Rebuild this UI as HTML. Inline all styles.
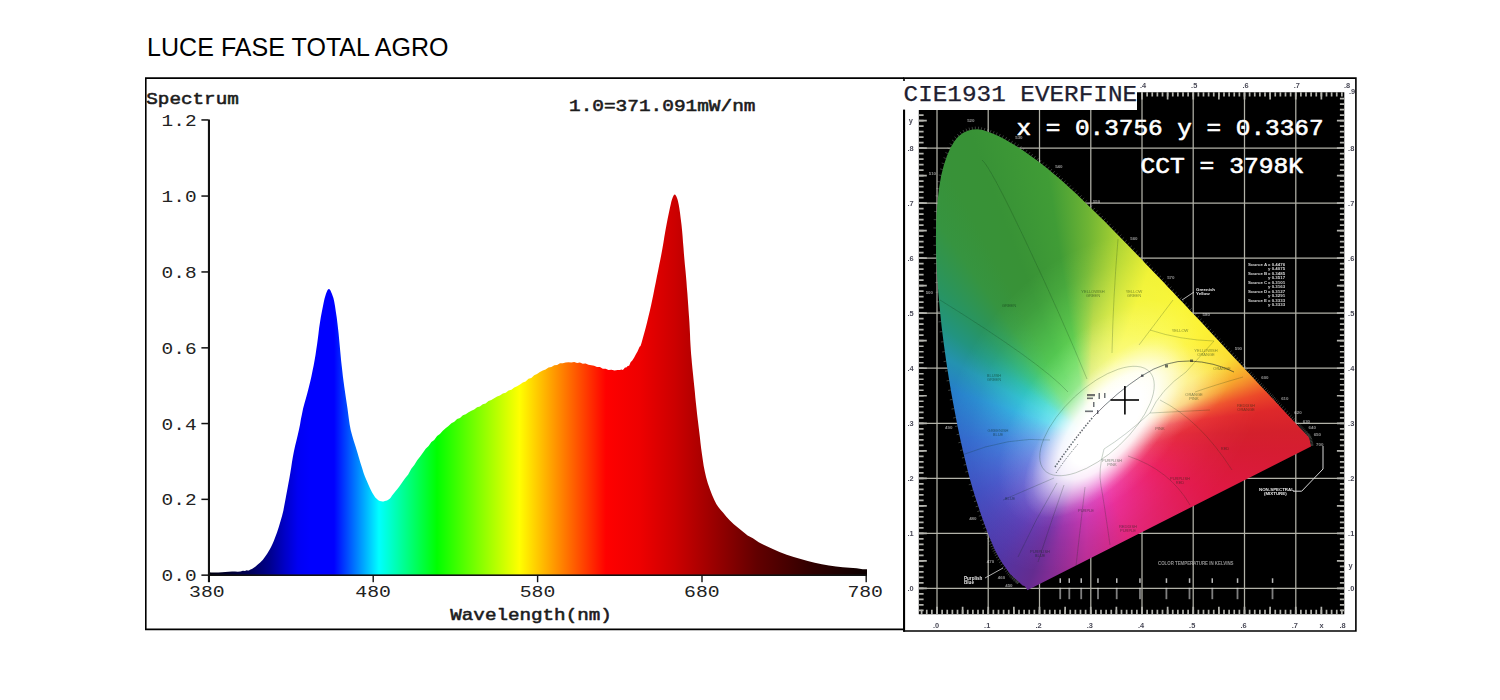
<!DOCTYPE html>
<html><head><meta charset="utf-8"><title>LUCE FASE TOTAL AGRO</title>
<style>
html,body{margin:0;padding:0;background:#fff;}
body{width:1500px;height:700px;position:relative;overflow:hidden;font-family:"Liberation Sans",sans-serif;}
#title{position:absolute;left:147px;top:33px;font-size:25px;line-height:28px;color:#000;white-space:nowrap;letter-spacing:0.05px;}
svg{position:absolute;left:0;top:0;}
.m{font-family:"Liberation Mono",monospace;}
.mb{font-family:"Liberation Mono",monospace;font-weight:bold;}
#ciecol{position:absolute;left:930px;top:110px;width:400px;height:500px;overflow:hidden;}
#ciecol div{position:absolute;}
</style></head><body>
<div id="title">LUCE FASE TOTAL AGRO</div>
<svg width="1500" height="700" viewBox="0 0 1500 700">
<defs>
<linearGradient id="sg" gradientUnits="userSpaceOnUse" x1="209" y1="0" x2="867" y2="0">
<stop offset="0.0000" stop-color="#00000c"/>
<stop offset="0.0623" stop-color="#000058"/>
<stop offset="0.0927" stop-color="#00008e"/>
<stop offset="0.1155" stop-color="#0000c8"/>
<stop offset="0.1353" stop-color="#0000f4"/>
<stop offset="0.1535" stop-color="#0000ff"/>
<stop offset="0.1900" stop-color="#0000ff"/>
<stop offset="0.2584" stop-color="#00ffff"/>
<stop offset="0.3465" stop-color="#00ff00"/>
<stop offset="0.4719" stop-color="#ffff00"/>
<stop offset="0.6033" stop-color="#ff0000"/>
<stop offset="0.6550" stop-color="#ee0000"/>
<stop offset="0.7082" stop-color="#cc0000"/>
<stop offset="0.7492" stop-color="#aa0000"/>
<stop offset="0.8328" stop-color="#620000"/>
<stop offset="0.9164" stop-color="#300000"/>
<stop offset="1.0000" stop-color="#0c0000"/>
</linearGradient>
<filter id="bl" x="-2%" y="-2%" width="104%" height="104%"><feGaussianBlur stdDeviation="0.45"/></filter>
</defs>
<g fill="none" stroke="#000" stroke-width="1.6">
<path d="M904,78.1 H145.8 V629.4 H904"/>
<path d="M904,78.1 H1355.9 V631 H904 Z"/>
</g>
<path d="M209,575.5 L209.0,572.2 L211.3,572.6 L214.7,572.5 L218.4,572.5 L222.0,572.3 L225.3,572.0 L228.7,571.7 L232.0,571.4 L235.0,571.4 L237.8,571.7 L240.5,571.4 L242.9,570.7 L245.0,571.1 L246.6,570.3 L247.8,570.5 L248.9,570.5 L250.0,569.8 L251.2,569.3 L252.3,568.7 L253.4,568.1 L254.5,567.3 L255.6,566.5 L256.7,565.6 L257.8,564.6 L259.0,563.5 L260.2,562.4 L261.4,561.2 L262.7,559.9 L264.0,558.3 L265.4,556.3 L267.0,554.1 L268.5,551.6 L270.0,549.0 L271.3,546.4 L272.6,543.8 L273.9,540.8 L275.3,537.1 L277.0,532.4 L278.8,527.0 L280.5,521.3 L282.1,515.7 L283.4,510.4 L284.4,505.0 L285.4,499.7 L286.4,494.3 L287.4,489.0 L288.4,483.6 L289.4,478.3 L290.3,472.9 L291.2,467.5 L292.0,462.1 L292.9,456.8 L293.9,451.4 L295.1,446.0 L296.4,440.7 L297.7,435.3 L298.9,430.0 L300.0,424.7 L300.9,419.3 L302.0,414.0 L303.1,408.6 L304.5,403.2 L306.0,397.9 L307.5,392.5 L308.9,387.1 L310.2,381.7 L311.4,376.4 L312.5,371.0 L313.6,365.7 L314.6,360.3 L315.5,355.0 L316.3,349.6 L317.1,344.3 L317.8,339.0 L318.5,333.6 L319.1,328.3 L319.9,322.9 L320.8,317.2 L321.9,311.4 L323.0,305.9 L323.9,301.4 L324.7,298.1 L325.4,295.7 L326.0,293.8 L326.6,292.2 L327.2,290.8 L327.8,289.8 L328.3,289.2 L328.9,289.0 L329.5,289.2 L330.0,289.8 L330.6,290.8 L331.2,292.2 L331.9,293.8 L332.6,295.7 L333.4,298.1 L334.2,301.4 L335.0,305.9 L335.8,311.4 L336.7,317.2 L337.4,322.9 L338.0,328.3 L338.6,333.6 L339.1,339.0 L339.6,344.3 L340.1,349.7 L340.6,355.0 L341.1,360.4 L341.7,365.7 L342.3,371.0 L342.9,376.4 L343.6,381.7 L344.3,387.1 L345.1,392.5 L345.9,397.9 L346.7,403.2 L347.5,408.6 L348.2,414.0 L348.9,419.3 L349.7,424.7 L350.7,430.0 L352.1,435.3 L353.7,440.7 L355.4,446.0 L357.1,451.4 L358.7,457.0 L360.4,462.7 L362.1,468.1 L363.6,472.9 L365.0,476.8 L366.4,480.1 L367.7,483.0 L368.9,485.7 L370.0,488.2 L371.1,490.5 L372.1,492.5 L373.2,494.3 L374.3,495.9 L375.3,497.4 L376.4,498.6 L377.5,499.6 L378.7,500.4 L379.9,500.9 L381.2,501.2 L382.4,501.4 L383.6,501.4 L384.8,501.1 L386.0,500.8 L387.0,500.4 L387.9,500.0 L388.6,499.5 L389.3,499.0 L390.0,498.4 L390.6,497.7 L391.2,496.9 L391.7,496.0 L392.5,495.0 L393.5,493.8 L394.5,492.5 L395.7,491.1 L397.0,489.5 L398.2,487.9 L399.5,486.3 L400.9,484.3 L402.8,481.6 L405.3,477.9 L408.2,474.4 L411.3,468.7 L414.3,465.1 L417.2,460.3 L420.0,456.7 L422.9,452.7 L425.7,448.8 L428.6,446.0 L431.4,442.0 L434.2,439.9 L437.1,436.1 L439.9,434.0 L442.8,430.7 L445.6,428.3 L448.5,426.0 L451.4,423.3 L454.3,421.8 L457.1,419.0 L460.0,417.9 L462.9,415.3 L465.7,414.3 L468.6,412.3 L471.4,410.7 L474.2,409.4 L477.1,407.3 L479.9,406.6 L482.8,404.2 L485.6,403.4 L488.5,401.1 L491.3,399.9 L494.2,398.2 L497.1,396.5 L499.9,395.5 L502.8,393.4 L505.7,392.8 L508.6,390.4 L511.4,389.7 L514.3,387.6 L517.1,386.3 L520.0,384.6 L522.8,382.6 L525.6,381.4 L528.5,378.8 L531.3,377.9 L534.2,375.2 L537.0,374.1 L539.9,371.9 L542.8,370.6 L545.6,369.4 L548.5,367.6 L551.4,367.1 L554.3,365.2 L557.1,365.0 L560.0,363.3 L562.8,363.2 L565.6,362.4 L568.5,362.2 L571.4,362.5 L574.2,362.0 L577.1,363.0 L579.9,362.5 L582.8,363.8 L585.6,363.6 L588.4,364.7 L591.3,365.2 L594.1,365.7 L597.0,367.0 L599.9,367.1 L602.8,368.8 L605.6,368.7 L608.5,370.1 L611.5,369.8 L614.6,370.4 L617.5,370.1 L619.9,369.9 L621.6,369.4 L622.8,370.1 L623.8,369.0 L625.0,367.5 L626.3,367.6 L627.7,366.0 L629.1,365.7 L630.6,362.2 L632.3,360.4 L634.2,357.6 L635.9,354.2 L637.5,351.4 L638.7,348.8 L639.6,346.8 L640.5,346.0 L641.5,343.1 L642.8,338.3 L644.2,333.3 L645.7,327.8 L647.1,322.3 L648.4,316.8 L649.8,311.0 L651.1,305.2 L652.3,299.4 L653.5,293.7 L654.6,287.9 L655.8,282.2 L656.9,276.5 L658.1,270.8 L659.2,265.0 L660.4,259.3 L661.5,253.6 L662.5,247.9 L663.5,242.2 L664.4,236.5 L665.4,230.8 L666.5,224.8 L667.7,218.5 L668.9,212.7 L669.9,207.9 L670.7,204.4 L671.3,201.7 L671.9,199.7 L672.5,198.0 L673.1,196.5 L673.6,195.5 L674.2,194.8 L674.7,194.6 L675.3,194.8 L675.8,195.5 L676.4,196.5 L677.0,198.0 L677.6,199.7 L678.1,201.7 L678.7,204.4 L679.3,207.9 L680.0,212.7 L680.7,218.5 L681.5,224.8 L682.1,230.8 L682.6,236.5 L683.0,242.2 L683.5,247.9 L683.9,253.6 L684.4,259.3 L684.9,265.0 L685.5,270.8 L686.0,276.5 L686.5,282.2 L686.9,287.9 L687.4,293.7 L687.8,299.4 L688.2,305.1 L688.6,310.9 L689.0,316.6 L689.4,322.3 L689.7,328.1 L690.0,334.0 L690.2,339.8 L690.5,345.1 L690.8,349.8 L691.1,354.0 L691.5,358.2 L691.9,362.9 L692.4,368.3 L693.0,374.0 L693.6,380.0 L694.2,385.8 L694.8,391.5 L695.3,397.2 L695.9,402.9 L696.5,408.6 L697.1,414.3 L697.8,420.0 L698.5,425.8 L699.2,431.5 L699.9,437.2 L700.5,442.9 L701.2,448.7 L702.0,454.4 L702.8,460.1 L703.7,465.9 L704.8,471.6 L706.1,477.3 L707.8,483.2 L709.9,489.3 L712.1,495.0 L714.3,500.0 L716.3,503.9 L718.3,507.0 L720.5,509.8 L723.2,512.8 L726.4,516.7 L729.9,520.5 L733.8,524.2 L738.1,527.7 L742.7,531.5 L747.6,535.5 L752.9,538.2 L758.7,542.3 L765.2,545.5 L772.2,548.8 L779.5,552.1 L786.7,554.8 L793.7,557.1 L800.7,559.1 L807.7,560.9 L814.7,562.7 L821.8,564.2 L828.9,565.5 L836.0,566.6 L842.7,567.2 L849.6,567.7 L856.6,568.2 L862.7,569.2 L867.0,569.2 L867,575.5 Z" fill="url(#sg)"/>
<g fill="#111">
<rect x="207.9" y="119.5" width="2.1" height="462.7"/>
<rect x="209" y="574.4" width="658" height="1.6"/>
<rect x="201.4" y="119.2" width="7" height="1.5"/>
<rect x="201.4" y="195.3" width="7" height="1.5"/>
<rect x="201.4" y="271.2" width="7" height="1.5"/>
<rect x="201.4" y="347.1" width="7" height="1.5"/>
<rect x="201.4" y="422.8" width="7" height="1.5"/>
<rect x="201.4" y="498.6" width="7" height="1.5"/>
<rect x="201.4" y="574.4" width="7" height="1.5"/>
<rect x="372.5" y="575" width="1.4" height="7.2"/>
<rect x="536.9" y="575" width="1.4" height="7.2"/>
<rect x="701.3" y="575" width="1.4" height="7.2"/>
<rect x="865.5" y="575" width="1.4" height="7.2"/>
</g>
<g class="m" font-size="17" fill="#222">
<text x="161.6" y="126.0" textLength="35" lengthAdjust="spacingAndGlyphs">1.2</text>
<text x="161.6" y="202.1" textLength="35" lengthAdjust="spacingAndGlyphs">1.0</text>
<text x="161.6" y="278.0" textLength="35" lengthAdjust="spacingAndGlyphs">0.8</text>
<text x="161.6" y="353.8" textLength="35" lengthAdjust="spacingAndGlyphs">0.6</text>
<text x="161.6" y="429.5" textLength="35" lengthAdjust="spacingAndGlyphs">0.4</text>
<text x="161.6" y="505.3" textLength="35" lengthAdjust="spacingAndGlyphs">0.2</text>
<text x="161.6" y="581.1" textLength="35" lengthAdjust="spacingAndGlyphs">0.0</text>
<text x="189.1" y="597.3" textLength="35.6" lengthAdjust="spacingAndGlyphs">380</text>
<text x="355.3" y="597.3" textLength="35.6" lengthAdjust="spacingAndGlyphs">480</text>
<text x="519.7" y="597.3" textLength="35.6" lengthAdjust="spacingAndGlyphs">580</text>
<text x="684.1" y="597.3" textLength="35.6" lengthAdjust="spacingAndGlyphs">680</text>
<text x="847.4" y="597.3" textLength="35.6" lengthAdjust="spacingAndGlyphs">780</text>
</g>
<g class="m" font-size="16.4" fill="#1c1c1c" stroke="#1c1c1c" stroke-width="0.55" stroke-linejoin="round">
<text x="146.3" y="103.8" textLength="92.5" lengthAdjust="spacingAndGlyphs">Spectrum</text>
<text x="569" y="111.1" textLength="186.5" lengthAdjust="spacingAndGlyphs">1.0=371.091mW/nm</text>
<text x="450.3" y="620" textLength="161.5" lengthAdjust="spacingAndGlyphs">Wavelength(nm)</text>
</g>
<path d="M918.8,110 H1137 V92.2 H1344.3 V614.2 H918.8 Z" fill="#000"/>
<g filter="url(#bl)">
<g stroke="#b2b2a8" stroke-width="1.25">
<line x1="937.0" y1="110" x2="937.0" y2="614"/>
<line x1="988.2" y1="110" x2="988.2" y2="614"/>
<line x1="1039.5" y1="110" x2="1039.5" y2="614"/>
<line x1="1090.8" y1="110" x2="1090.8" y2="614"/>
<line x1="1142.0" y1="92" x2="1142.0" y2="614"/>
<line x1="1193.2" y1="92" x2="1193.2" y2="614"/>
<line x1="1244.5" y1="92" x2="1244.5" y2="614"/>
<line x1="1295.8" y1="92" x2="1295.8" y2="614"/>
<line x1="919" y1="588.4" x2="1344.3" y2="588.4"/>
<line x1="919" y1="533.4" x2="1344.3" y2="533.4"/>
<line x1="919" y1="478.3" x2="1344.3" y2="478.3"/>
<line x1="919" y1="423.3" x2="1344.3" y2="423.3"/>
<line x1="919" y1="368.2" x2="1344.3" y2="368.2"/>
<line x1="919" y1="313.2" x2="1344.3" y2="313.2"/>
<line x1="919" y1="258.2" x2="1344.3" y2="258.2"/>
<line x1="919" y1="203.1" x2="1344.3" y2="203.1"/>
<line x1="919" y1="148.1" x2="1344.3" y2="148.1"/>
</g>
<line x1="1141.15" y1="94.4" x2="1343.0" y2="94.4" stroke="#b4b4ae" stroke-width="4.4" stroke-dasharray="1.7 3.425"/>
<line x1="1141.15" y1="95.9" x2="1343.0" y2="95.9" stroke="#b4b4ae" stroke-width="7.4" stroke-dasharray="1.7 23.925"/>
<line x1="920.77" y1="612.0" x2="1343.0" y2="612.0" stroke="#b4b4ae" stroke-width="4.4" stroke-dasharray="1.7 3.425"/>
<line x1="936.15" y1="610.5" x2="1343.0" y2="610.5" stroke="#b4b4ae" stroke-width="7.4" stroke-dasharray="1.7 23.925"/>
<line x1="921.2" y1="611.27" x2="921.2" y2="111.0" stroke="#b4b4ae" stroke-width="4.8" stroke-dasharray="1.7 3.804"/>
<line x1="922.8" y1="589.25" x2="922.8" y2="111.0" stroke="#b4b4ae" stroke-width="8.0" stroke-dasharray="1.7 25.820"/>
<line x1="1342.1" y1="611.27" x2="1342.1" y2="94.0" stroke="#b4b4ae" stroke-width="4.4" stroke-dasharray="1.7 3.804"/>
<line x1="1340.6" y1="589.25" x2="1340.6" y2="94.0" stroke="#b4b4ae" stroke-width="7.4" stroke-dasharray="1.7 25.820"/>
</g>
</svg>
<div id="ciecol" style="clip-path:path('M97.3,480.3 L97.0,479.6 L96.4,478.6 L95.8,477.6 L95.3,476.7 L94.7,476.3 L94.0,476.0 L93.4,475.8 L92.9,475.6 L92.5,475.4 L92.2,475.2 L91.9,474.9 L91.6,474.6 L91.1,474.2 L90.6,473.7 L90.0,473.1 L89.2,472.4 L88.4,471.6 L87.5,470.8 L86.4,469.8 L85.2,468.7 L83.8,467.4 L82.3,466.1 L80.6,464.4 L78.7,462.1 L76.3,458.8 L73.6,454.9 L70.8,450.7 L68.3,446.6 L66.3,442.8 L64.5,439.2 L62.8,435.3 L60.8,430.6 L58.6,425.2 L56.3,419.3 L53.9,412.8 L51.3,405.4 L48.6,397.2 L45.6,388.3 L42.6,378.6 L39.6,367.9 L36.6,356.3 L33.6,343.7 L30.5,330.3 L27.5,316.0 L24.6,300.8 L21.6,284.7 L18.8,268.1 L16.2,251.2 L13.8,234.1 L11.6,216.6 L9.8,199.1 L8.3,182.1 L7.1,165.4 L6.3,149.0 L5.9,133.1 L6.0,118.0 L6.6,103.6 L7.7,89.9 L9.2,77.0 L11.2,65.5 L13.8,55.2 L16.9,46.0 L20.4,38.0 L24.2,31.5 L28.3,26.5 L32.9,23.1 L37.6,20.8 L42.5,19.5 L47.5,19.2 L52.7,20.1 L58.0,21.7 L63.2,23.7 L68.5,25.9 L73.8,28.7 L79.0,31.7 L84.2,34.8 L89.3,38.0 L94.2,41.3 L99.1,44.7 L104.0,48.2 L108.8,51.8 L113.6,55.5 L118.3,59.3 L123.0,63.2 L127.8,67.2 L132.5,71.3 L137.1,75.5 L141.8,79.7 L146.5,84.1 L151.1,88.4 L155.7,92.9 L160.4,97.4 L165.0,101.9 L169.6,106.5 L174.3,111.1 L178.9,115.7 L183.5,120.4 L188.2,125.2 L192.8,129.9 L197.5,134.7 L202.1,139.5 L206.7,144.3 L211.3,149.1 L215.9,153.9 L220.5,158.7 L225.1,163.5 L229.7,168.3 L234.3,173.1 L238.8,177.9 L243.3,182.6 L247.8,187.4 L252.3,192.1 L256.7,196.8 L261.0,201.4 L265.4,206.0 L269.7,210.6 L273.9,215.1 L278.0,219.6 L282.2,224.0 L286.2,228.3 L290.2,232.6 L294.1,236.8 L298.0,240.9 L301.8,244.9 L305.5,248.9 L309.1,252.8 L312.6,256.5 L316.0,260.2 L319.2,263.6 L322.4,267.0 L325.4,270.2 L328.3,273.4 L331.2,276.4 L334.0,279.4 L336.7,282.3 L339.2,285.0 L341.5,287.4 L343.6,289.6 L345.7,291.9 L348.2,294.6 L351.3,297.9 L354.8,301.7 L358.3,305.4 L361.4,308.7 L363.9,311.4 L366.1,313.7 L368.0,315.8 L369.8,317.7 L371.5,319.5 L372.9,321.0 L374.3,322.5 L375.5,323.8 L376.6,324.9 L377.5,325.8 L378.3,326.8 L379.1,328.1 L379.7,330.1 L380.2,332.5 L380.7,334.8 L381.0,336.4 Z');">
<div style="left:0;top:0;width:400px;height:500px;background:conic-gradient(from 0deg at 158px 326px, #409c36 -8.7deg, #6eb434 0.0deg, #b2d632 9.9deg, #eef02e 20.3deg, #f8f22a 36.5deg, #fcec28 47.8deg, #fad62c 61.3deg, #f69628 69.5deg, #ec4828 76.4deg, #de282a 82.0deg, #d4202c 88.9deg, #d61c32 95.0deg, #e01846 114.6deg, #e02474 158.1deg, #b82c92 181.0deg, #802c94 195.6deg, #642c90 201.9deg, #5036a6 217.0deg, #3c48ba 242.7deg, #3060c8 267.8deg, #267eca 288.4deg, #2492b0 298.7deg, #229480 306.8deg, #289462 314.2deg, #369440 324.9deg, #389238 332.1deg, #389236 338.7deg, #409c36 351.3deg, #6eb434 360.0deg);"></div>
<div style="left:-16px;top:152px;width:380px;height:280px;transform:rotate(-50deg);mix-blend-mode:overlay;background:radial-gradient(closest-side, rgba(255,255,255,0.78) 0%, rgba(255,255,255,0.64) 35%, rgba(255,255,255,0.36) 60%, rgba(255,255,255,0.12) 82%, rgba(255,255,255,0.00) 100%);"></div>
<div style="left:37px;top:229px;width:270px;height:150px;transform:rotate(-50deg);background:radial-gradient(closest-side, rgba(255,255,255,0.50) 0%, rgba(255,255,255,0.36) 40%, rgba(255,255,255,0.14) 70%, rgba(255,255,255,0.00) 100%);"></div>
<div style="left:63px;top:267px;width:228px;height:98px;transform:rotate(-49deg);background:radial-gradient(closest-side, rgba(255,255,255,1.00) 0%, rgba(255,255,255,1.00) 42%, rgba(255,255,255,0.88) 58%, rgba(255,255,255,0.50) 74%, rgba(255,255,255,0.14) 90%, rgba(255,255,255,0.00) 100%);"></div>
<div style="left:157px;top:244px;width:150px;height:84px;transform:rotate(-28deg);background:radial-gradient(closest-side, rgba(255,255,255,0.50) 0%, rgba(255,255,255,0.36) 45%, rgba(255,255,255,0.12) 75%, rgba(255,255,255,0.00) 100%);"></div>
</div>
<svg width="1500" height="700" viewBox="0 0 1500 700">
<defs><filter id="bl2" x="-5%" y="-5%" width="110%" height="110%"><feGaussianBlur stdDeviation="0.5"/></filter></defs>
<rect x="902.5" y="81" width="234.3" height="28.8" fill="#fff"/>
<rect x="903.1" y="109.7" width="2" height="522" fill="#000"/>
<text class="m" x="903.6" y="100.5" font-size="21.6" fill="#1e2030" stroke="#1e2030" stroke-width="0.25" textLength="233.5" lengthAdjust="spacingAndGlyphs">CIE1931 EVERFINE</text>
<g class="m" font-size="22" fill="#fff" stroke="#fff" stroke-width="0.6" stroke-linejoin="round">
<text x="1016.5" y="135" textLength="307" lengthAdjust="spacingAndGlyphs">x = 0.3756 y = 0.3367</text>
<text x="1140.5" y="173" textLength="162.5" lengthAdjust="spacingAndGlyphs">CCT = 3798K</text>
</g>
<g font-family="Liberation Sans, sans-serif" font-size="7.4" font-weight="bold" fill="#4a4a58" text-anchor="middle" filter="url(#bl2)">
<text x="936.0" y="627.8">.0</text>
<text x="987.2" y="627.8">.1</text>
<text x="1038.5" y="627.8">.2</text>
<text x="1089.8" y="627.8">.3</text>
<text x="1141.0" y="627.8">.4</text>
<text x="1192.2" y="627.8">.5</text>
<text x="1243.5" y="627.8">.6</text>
<text x="1294.8" y="627.8">.7</text>
<text x="1321.6" y="627.8">x</text><text x="1342.5" y="627.8">.8</text>
<text x="1143.0" y="88.2">.4</text>
<text x="1194.2" y="88.2">.5</text>
<text x="1245.5" y="88.2">.6</text>
<text x="1296.8" y="88.2">.7</text>
<text x="1347.0" y="88.2">.8</text>
<text x="910.7" y="122.5">y</text>
<text x="910.5" y="591.0">.0</text>
<text x="1351.2" y="591.0">.0</text>
<text x="910.5" y="536.0">.1</text>
<text x="1351.2" y="536.0">.1</text>
<text x="910.5" y="480.9">.2</text>
<text x="1351.2" y="480.9">.2</text>
<text x="910.5" y="425.9">.3</text>
<text x="1351.2" y="425.9">.3</text>
<text x="910.5" y="370.8">.4</text>
<text x="1351.2" y="370.8">.4</text>
<text x="910.5" y="315.8">.5</text>
<text x="1351.2" y="315.8">.5</text>
<text x="910.5" y="260.8">.6</text>
<text x="1351.2" y="260.8">.6</text>
<text x="910.5" y="205.7">.7</text>
<text x="1351.2" y="205.7">.7</text>
<text x="910.5" y="150.7">.8</text>
<text x="1351.2" y="150.7">.8</text>
<text x="1352" y="93.8">.9</text>
<text x="1350.5" y="567.5">y</text>
</g>
<g fill="none" stroke="#10301c" stroke-opacity="0.24" stroke-width="0.9" filter="url(#bl2)">
<ellipse cx="1097" cy="421" rx="72" ry="33" transform="rotate(-43 1097 421)"/>
<path d="M1087,379 Q1062,318 1026,242 T982,160"/>
<path d="M1068,392 Q1040,362 940,300"/>
<path d="M1112,353 Q1113,300 1118,239"/>
<path d="M1139,345 L1173,300"/>
<path d="M1050,440 Q1010,436 962,455"/>
<path d="M1054,478 L1003,500"/>
<path d="M1057,483 Q1035,520 1018,557"/>
<path d="M1064,485 Q1050,525 1038,562"/>
<path d="M1085,487 Q1080,530 1076,566"/>
<path d="M1104,449 Q1098,470 1101,486 T1110,545"/>
<path d="M1104,449 Q1125,436 1150,413 L1210,410"/>
<path d="M1150,413 Q1160,390 1186,372"/>
<path d="M1160,400 Q1200,420 1232,470"/>
<path d="M1128,456 Q1170,470 1190,505"/>
<path d="M1186,372 L1214,341"/>
<path d="M1195,392 Q1215,385 1243,377"/>
<path d="M1150,330 Q1180,340 1214,341"/>
</g>
<g fill="none" stroke="#101820" filter="url(#bl2)">
<path d="M1093,417 Q1117,392 1141.5,376 T1190,361 T1234,372" stroke-width="0.9" stroke-opacity="0.6"/>
<path d="M1055,467 Q1072,442 1093,417" stroke-width="1.5" stroke-dasharray="1.5 1.5" stroke-opacity="0.65"/>
<path d="M1056,473 Q1066,458 1078,444" stroke-width="1" stroke-dasharray="1 1.2" stroke-opacity="0.6"/>
</g>
<g fill="#10141c" fill-opacity="0.6" filter="url(#bl2)">
<rect x="1087.0" y="394.0" width="8.0" height="2.2"/>
<rect x="1087.0" y="397.5" width="6.0" height="1.6"/>
<rect x="1085.0" y="410.5" width="8.0" height="1.6"/>
<rect x="1098.5" y="393.0" width="1.5" height="6.0"/>
<rect x="1104.0" y="393.0" width="1.5" height="5.0"/>
<rect x="1093.0" y="402.0" width="1.5" height="5.0"/>
<rect x="1097.0" y="410.0" width="1.4" height="4.0"/>
<rect x="1165.0" y="364.5" width="3.0" height="3.0"/>
<rect x="1190.0" y="359.5" width="3.0" height="2.5"/>
<rect x="1141.0" y="374.5" width="2.5" height="2.5"/>
</g>
<g font-family="Liberation Sans, sans-serif" font-size="4" fill="#102018" fill-opacity="0.5" text-anchor="middle" filter="url(#bl2)">
<text x="1009" y="307">GREEN</text>
<text x="1093" y="293">YELLOWISH</text>
<text x="1093" y="297">GREEN</text>
<text x="1134" y="293">YELLOW</text>
<text x="1134" y="297">GREEN</text>
<text x="994" y="377">BLUISH</text>
<text x="994" y="381">GREEN</text>
<text x="998" y="432">GREENISH</text>
<text x="998" y="436">BLUE</text>
<text x="1010" y="500">BLUE</text>
<text x="1040" y="553">PURPLISH</text>
<text x="1040" y="557">BLUE</text>
<text x="1086" y="512">PURPLE</text>
<text x="1112" y="462">PURPLISH</text>
<text x="1112" y="466">PINK</text>
<text x="1128" y="528">REDDISH</text>
<text x="1128" y="532">PURPLE</text>
<text x="1180" y="480">PURPLISH</text>
<text x="1180" y="484">RED</text>
<text x="1225" y="450">RED</text>
<text x="1194" y="396">ORANGE</text>
<text x="1194" y="400">PINK</text>
<text x="1180" y="332">YELLOW</text>
<text x="1206" y="352">YELLOWISH</text>
<text x="1206" y="356">ORANGE</text>
<text x="1222" y="370">ORANGE</text>
<text x="1246" y="407">REDDISH</text>
<text x="1246" y="411">ORANGE</text>
<text x="1160" y="430">PINK</text>
</g>
<g fill="#e8e8e8" filter="url(#bl2)">
<g font-family="Liberation Sans, sans-serif" font-size="4.4" font-weight="bold" text-anchor="middle" fill-opacity="0.6">
<text x="1008.9" y="586.7">450</text>
<text x="1001.5" y="579.1">460</text>
<text x="990.5" y="562.6">470</text>
<text x="972.8" y="519.8">480</text>
<text x="948.7" y="429.4">490</text>
<text x="929.3" y="294.3">500</text>
<text x="932.4" y="175.2">510</text>
<text x="970.8" y="122.3">520</text>
<text x="1018.9" y="138.7">530</text>
<text x="1058.8" y="167.9">540</text>
<text x="1096.6" y="202.5">550</text>
<text x="1133.9" y="240.0">560</text>
<text x="1170.8" y="278.5">570</text>
<text x="1206.2" y="316.0">580</text>
<text x="1238.4" y="350.4">590</text>
<text x="1264.9" y="378.8">600</text>
<text x="1284.8" y="400.0">610</text>
<text x="1298.0" y="414.2">620</text>
<text x="1306.4" y="423.1">630</text>
<text x="1312.2" y="429.4">640</text>
<text x="1317.3" y="436.2">650</text>
<text x="1319.7" y="446.0">700</text>
</g>
<path d="M1018.9,582.1 l-1.7,1.9 M1018.5,581.7 l-1.7,1.9 M1017.9,581.2 l-1.7,1.9 M1017.3,580.7 l-1.8,1.9 M1016.7,580.0 l-1.8,1.9 M1015.9,579.4 l-1.8,1.9 M1015.2,578.7 l-1.8,1.9 M1014.4,577.9 l-1.7,1.9 M1013.6,577.2 l-1.7,2.0 M1012.8,576.5 l-1.7,1.9 M1011.9,575.7 l-1.8,1.9 M1010.9,574.7 l-1.9,1.8 M1009.8,573.5 l-2.0,1.7 M1008.7,572.1 l-2.1,1.6 M1007.4,570.3 l-2.1,1.5 M1005.9,568.3 l-2.1,1.5 M1004.4,566.1 l-2.1,1.5 M1002.8,563.7 l-2.2,1.4 M1001.2,561.3 l-2.2,1.4 M999.7,558.9 l-2.2,1.3 M998.3,556.6 l-2.3,1.3 M997.1,554.4 l-2.3,1.2 M996.1,552.3 l-2.3,1.2 M995.0,550.3 l-2.3,1.1 M994.0,548.1 l-2.4,1.1 M993.0,545.9 l-2.4,1.0 M992.0,543.4 l-2.4,1.0 M990.8,540.6 l-2.4,1.0 M989.6,537.6 l-2.4,1.0 M988.3,534.4 l-2.4,1.0 M987.0,531.1 l-2.4,0.9 M985.7,527.5 l-2.4,0.9 M984.3,523.7 l-2.4,0.9 M982.8,519.7 l-2.5,0.9 M981.3,515.4 l-2.5,0.8 M979.8,510.8 l-2.5,0.8 M978.2,506.0 l-2.5,0.8 M976.5,500.9 l-2.5,0.8 M974.8,495.6 l-2.5,0.8 M973.1,490.0 l-2.5,0.7 M971.3,484.1 l-2.5,0.7 M969.6,477.9 l-2.5,0.7 M967.9,471.4 l-2.5,0.6 M966.2,464.5 l-2.5,0.6 M964.4,457.4 l-2.5,0.6 M962.7,449.9 l-2.5,0.6 M960.9,442.2 l-2.5,0.6 M959.2,434.2 l-2.5,0.5 M957.5,426.0 l-2.5,0.5 M955.8,417.5 l-2.6,0.5 M954.1,408.6 l-2.6,0.5 M952.4,399.4 l-2.6,0.5 M950.8,390.0 l-2.6,0.4 M949.2,380.5 l-2.6,0.4 M947.6,370.8 l-2.6,0.4 M946.2,361.2 l-2.6,0.4 M944.8,351.6 l-2.6,0.4 M943.5,341.7 l-2.6,0.3 M942.2,331.6 l-2.6,0.3 M941.1,321.6 l-2.6,0.3 M940.0,311.6 l-2.6,0.3 M939.1,301.7 l-2.6,0.2 M938.3,292.1 l-2.6,0.2 M937.6,282.5 l-2.6,0.2 M937.0,273.0 l-2.6,0.1 M936.5,263.6 l-2.6,0.1 M936.2,254.4 l-2.6,0.1 M936.0,245.3 l-2.6,0.0 M935.9,236.5 l-2.6,-0.0 M936.0,228.0 l-2.6,-0.1 M936.3,219.7 l-2.6,-0.1 M936.7,211.6 l-2.6,-0.2 M937.3,203.7 l-2.6,-0.2 M938.1,196.1 l-2.6,-0.3 M938.9,188.8 l-2.6,-0.4 M940.0,181.9 l-2.6,-0.4 M941.2,175.5 l-2.5,-0.5 M942.6,169.5 l-2.5,-0.6 M944.2,163.8 l-2.5,-0.8 M945.9,158.5 l-2.4,-0.9 M947.8,153.5 l-2.4,-1.0 M949.8,149.0 l-2.3,-1.1 M952.0,145.0 l-2.3,-1.3 M954.2,141.5 l-2.1,-1.5 M956.5,138.5 l-2.0,-1.7 M959.0,136.0 l-1.7,-1.9 M961.5,133.9 l-1.5,-2.1 M964.2,132.3 l-1.2,-2.3 M967.0,131.1 l-1.0,-2.4 M969.7,130.1 l-0.7,-2.5 M972.5,129.5 l-0.4,-2.6 M975.4,129.2 l-0.1,-2.6 M978.3,129.3 l0.3,-2.6 M981.2,129.8 l0.5,-2.5 M984.2,130.5 l0.7,-2.5 M987.2,131.5 l0.8,-2.5 M990.2,132.6 l0.9,-2.4 M993.2,133.7 l0.9,-2.4 M996.2,134.9 l1.0,-2.4 M999.2,136.3 l1.1,-2.3 M1002.3,137.8 l1.2,-2.3 M1005.3,139.5 l1.3,-2.3 M1008.3,141.3 l1.3,-2.2 M1011.3,143.1 l1.3,-2.2 M1014.2,144.8 l1.4,-2.2 M1017.1,146.6 l1.4,-2.2 M1020.0,148.4 l1.4,-2.2 M1022.8,150.3 l1.4,-2.2 M1025.6,152.2 l1.5,-2.1 M1028.5,154.2 l1.5,-2.1 M1031.2,156.2 l1.5,-2.1 M1034.0,158.2 l1.5,-2.1 M1036.8,160.3 l1.6,-2.1 M1039.5,162.3 l1.6,-2.1 M1042.2,164.5 l1.6,-2.0 M1045.0,166.6 l1.6,-2.0 M1047.7,168.8 l1.6,-2.0 M1050.3,171.0 l1.7,-2.0 M1053.0,173.2 l1.7,-2.0 M1055.7,175.5 l1.7,-2.0 M1058.4,177.8 l1.7,-2.0 M1061.1,180.1 l1.7,-2.0 M1063.8,182.5 l1.7,-1.9 M1066.5,184.9 l1.7,-1.9 M1069.1,187.3 l1.7,-1.9 M1071.8,189.7 l1.8,-1.9 M1074.5,192.2 l1.8,-1.9 M1077.1,194.7 l1.8,-1.9 M1079.8,197.2 l1.8,-1.9 M1082.4,199.7 l1.8,-1.9 M1085.1,202.2 l1.8,-1.9 M1087.7,204.8 l1.8,-1.9 M1090.4,207.4 l1.8,-1.9 M1093.0,209.9 l1.8,-1.9 M1095.7,212.5 l1.8,-1.9 M1098.3,215.2 l1.8,-1.8 M1101.0,217.8 l1.8,-1.8 M1103.6,220.4 l1.8,-1.8 M1106.2,223.1 l1.8,-1.8 M1108.9,225.7 l1.8,-1.8 M1111.5,228.4 l1.8,-1.8 M1114.2,231.1 l1.9,-1.8 M1116.8,233.8 l1.9,-1.8 M1119.5,236.5 l1.9,-1.8 M1122.2,239.2 l1.9,-1.8 M1124.8,242.0 l1.9,-1.8 M1127.5,244.7 l1.9,-1.8 M1130.1,247.4 l1.9,-1.8 M1132.7,250.1 l1.9,-1.8 M1135.4,252.9 l1.9,-1.8 M1138.0,255.6 l1.9,-1.8 M1140.6,258.4 l1.9,-1.8 M1143.3,261.1 l1.9,-1.8 M1145.9,263.9 l1.9,-1.8 M1148.5,266.6 l1.9,-1.8 M1151.2,269.4 l1.9,-1.8 M1153.8,272.1 l1.9,-1.8 M1156.4,274.9 l1.9,-1.8 M1159.1,277.6 l1.9,-1.8 M1161.7,280.4 l1.9,-1.8 M1164.3,283.1 l1.9,-1.8 M1166.9,285.8 l1.9,-1.8 M1169.5,288.5 l1.9,-1.8 M1172.0,291.3 l1.9,-1.8 M1174.6,294.0 l1.9,-1.8 M1177.2,296.7 l1.9,-1.8 M1179.7,299.4 l1.9,-1.8 M1182.3,302.1 l1.9,-1.8 M1184.8,304.8 l1.9,-1.8 M1187.3,307.4 l1.9,-1.8 M1189.8,310.1 l1.9,-1.8 M1192.3,312.7 l1.9,-1.8 M1194.8,315.4 l1.9,-1.8 M1197.2,318.0 l1.9,-1.8 M1199.7,320.6 l1.9,-1.8 M1202.1,323.2 l1.9,-1.8 M1204.5,325.7 l1.9,-1.8 M1206.9,328.3 l1.9,-1.8 M1209.2,330.8 l1.9,-1.8 M1211.6,333.3 l1.9,-1.8 M1213.9,335.8 l1.9,-1.8 M1216.2,338.3 l1.9,-1.8 M1218.5,340.7 l1.9,-1.8 M1220.8,343.2 l1.9,-1.8 M1223.0,345.6 l1.9,-1.8 M1225.3,348.0 l1.9,-1.8 M1227.5,350.3 l1.9,-1.8 M1229.6,352.6 l1.9,-1.8 M1231.8,354.9 l1.9,-1.8 M1233.9,357.2 l1.9,-1.8 M1236.0,359.4 l1.9,-1.8 M1238.1,361.7 l1.9,-1.8 M1240.1,363.8 l1.9,-1.8 M1242.1,366.0 l1.9,-1.8 M1244.1,368.1 l1.9,-1.8 M1246.0,370.2 l1.9,-1.8 M1247.9,372.2 l1.9,-1.8 M1249.7,374.1 l1.9,-1.8 M1251.5,376.1 l1.9,-1.8 M1253.2,377.9 l1.9,-1.8 M1255.0,379.8 l1.9,-1.8 M1256.7,381.6 l1.9,-1.8 M1258.3,383.4 l1.9,-1.8 M1260.0,385.1 l1.9,-1.8 M1261.6,386.9 l1.9,-1.8 M1263.2,388.6 l1.9,-1.8 M1264.8,390.2 l1.9,-1.8 M1266.3,391.9 l1.9,-1.8 M1267.8,393.5 l1.9,-1.8 M1269.2,395.0 l1.9,-1.8 M1270.6,396.4 l1.9,-1.8 M1271.8,397.7 l1.9,-1.8 M1273.0,399.0 l1.9,-1.8 M1274.2,400.2 l1.9,-1.8 M1275.4,401.6 l1.9,-1.8 M1276.7,403.0 l1.9,-1.8 M1278.2,404.6 l1.9,-1.8 M1279.9,406.4 l1.9,-1.8 M1281.8,408.4 l1.9,-1.8 M1283.8,410.6 l1.9,-1.8 M1285.9,412.8 l1.9,-1.8 M1287.9,414.9 l1.9,-1.8 M1289.7,416.9 l1.9,-1.8 M1291.4,418.7 l1.9,-1.8 M1292.9,420.3 l1.9,-1.8 M1294.2,421.7 l1.9,-1.8 M1295.5,423.1 l1.9,-1.8 M1296.6,424.3 l1.9,-1.8 M1297.7,425.5 l1.9,-1.8 M1298.8,426.6 l1.9,-1.8 M1299.8,427.7 l1.9,-1.8 M1300.8,428.7 l1.9,-1.8 M1301.7,429.7 l1.9,-1.8 M1302.5,430.6 l1.9,-1.8 M1303.3,431.4 l1.9,-1.8 M1304.1,432.3 l1.9,-1.8 M1304.8,433.0 l1.9,-1.7 M1305.5,433.8 l1.9,-1.8 M1306.1,434.5 l1.9,-1.8 M1306.7,435.0 l1.8,-1.9 M1307.3,435.6 l1.8,-1.8 M1307.8,436.1 l1.9,-1.7 M1308.2,436.7 l2.1,-1.5 M1308.7,437.3 l2.3,-1.3 M1309.1,438.1 l2.4,-1.0 M1309.5,439.2 l2.5,-0.8 M1309.8,440.5 l2.5,-0.6 M1310.1,441.8 l2.5,-0.5 M1310.4,443.2 l2.6,-0.5 M1310.6,444.5 l2.6,-0.5 M1310.8,445.6 l2.6,-0.5" stroke="#c4d0c4" stroke-opacity="0.38" stroke-width="0.8" fill="none"/>
<g font-family="Liberation Sans, sans-serif" font-size="4.4" font-weight="bold" fill-opacity="0.9">
<text x="1248" y="266.0">Source A</text><text x="1268" y="266.0">x 0.4476</text><text x="1268" y="270.3">y 0.4075</text>
<text x="1248" y="275.0">Source B</text><text x="1268" y="275.0">x 0.3485</text><text x="1268" y="279.3">y 0.3517</text>
<text x="1248" y="284.0">Source C</text><text x="1268" y="284.0">x 0.3101</text><text x="1268" y="288.3">y 0.3163</text>
<text x="1248" y="293.0">Source D</text><text x="1268" y="293.0">x 0.3127</text><text x="1268" y="297.3">y 0.3291</text>
<text x="1248" y="302.0">Source E</text><text x="1268" y="302.0">x 0.3333</text><text x="1268" y="306.3">y 0.3333</text>
</g>
<g font-family="Liberation Sans, sans-serif" font-size="4.4" font-weight="bold"><text x="1196" y="290.5">Greenish</text><text x="1196" y="295">Yellow</text></g>
<path d="M1182,300 L1194,292" stroke="#e0e0e0" stroke-width="0.8" fill="none"/>
<g font-family="Liberation Sans, sans-serif" font-size="4.4" font-weight="bold"><text x="1259" y="490.5">NON-SPECTRAL</text><text x="1264" y="495.2">(MIXTURE)</text></g>
<path d="M1323,446 V469 L1301.7,491.2 H1293" stroke="#d8d8d8" stroke-width="1" fill="none"/>
<g font-family="Liberation Sans, sans-serif" font-size="4.6" font-weight="bold"><text x="964" y="579.5">Purplish</text><text x="964" y="584.2">Blue</text></g>
<path d="M985,578 L1003,568" stroke="#d8d8d8" stroke-width="0.8" fill="none"/>
<text x="1158" y="565.2" font-family="Liberation Sans, sans-serif" font-size="4.6" font-weight="bold" textLength="75.5" lengthAdjust="spacingAndGlyphs" fill-opacity="0.6">COLOR TEMPERATURE IN KELVINS</text>
<rect x="1059.5" y="578.3" width="1.5" height="4.6" fill-opacity="0.8"/><rect x="1059.3" y="587.8" width="1.8" height="11.4" fill-opacity="0.55"/>
<rect x="1068.5" y="578.3" width="1.5" height="4.6" fill-opacity="0.8"/><rect x="1068.4" y="587.8" width="1.8" height="11.4" fill-opacity="0.55"/>
<rect x="1080.5" y="578.3" width="1.5" height="4.6" fill-opacity="0.8"/><rect x="1080.3" y="587.8" width="1.8" height="11.4" fill-opacity="0.55"/>
<rect x="1097.2" y="578.3" width="1.5" height="4.6" fill-opacity="0.8"/><rect x="1097.1" y="587.8" width="1.8" height="11.4" fill-opacity="0.55"/>
<rect x="1116.0" y="578.3" width="1.5" height="4.6" fill-opacity="0.8"/><rect x="1115.8" y="587.8" width="1.8" height="11.4" fill-opacity="0.55"/>
<rect x="1139.2" y="578.3" width="1.5" height="4.6" fill-opacity="0.8"/><rect x="1139.1" y="587.8" width="1.8" height="11.4" fill-opacity="0.55"/>
<rect x="1165.7" y="578.3" width="1.5" height="4.6" fill-opacity="0.8"/><rect x="1165.5" y="587.8" width="1.8" height="11.4" fill-opacity="0.55"/>
<rect x="1188.8" y="578.3" width="1.5" height="4.6" fill-opacity="0.8"/><rect x="1188.6" y="587.8" width="1.8" height="11.4" fill-opacity="0.55"/>
<rect x="1211.5" y="578.3" width="1.5" height="4.6" fill-opacity="0.8"/><rect x="1211.4" y="587.8" width="1.8" height="11.4" fill-opacity="0.55"/>
<rect x="1236.8" y="578.3" width="1.5" height="4.6" fill-opacity="0.8"/><rect x="1236.6" y="587.8" width="1.8" height="11.4" fill-opacity="0.55"/>
<rect x="1271.8" y="578.3" width="1.5" height="4.6" fill-opacity="0.8"/><rect x="1271.6" y="587.8" width="1.8" height="11.4" fill-opacity="0.55"/>
</g>
<g stroke="#000" stroke-width="1.6">
<line x1="1110.5" y1="400" x2="1139" y2="400"/>
<line x1="1124.9" y1="386" x2="1124.9" y2="414.5"/>
</g>
</svg>
</body></html>
